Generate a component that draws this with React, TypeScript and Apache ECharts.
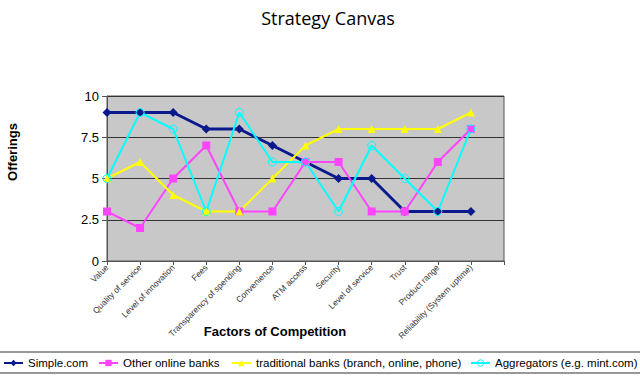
import React, { useEffect, useRef } from "react";
import * as echarts from "echarts";

const categories = [
  "Value",
  "Quality of service",
  "Level of innovation",
  "Fees",
  "Transparency of spending",
  "Convenience",
  "ATM access",
  "Security",
  "Level of service",
  "Trust",
  "Product range",
  "Reliability (System uptime)",
  "",
];
const seriesNames = [
  "Simple.com",
  "Other online banks",
  "traditional banks (branch, online, phone)",
  "Aggregators (e.g. mint.com)",
];
const simpleCom = [9, 9, 9, 8, 8, 7, 6, 5, 5, 3, 3, 3];
const otherOnline = [3, 2, 5, 7, 3, 3, 6, 6, 3, 3, 6, 8];
const traditional = [5, 6, 4, 3, 3, 5, 7, 8, 8, 8, 8, 9];
const aggregators = [5, 9, 8, 3, 9, 6, 6, 3, 7, 5, 3, 8];

const FONT = "Liberation Sans, Arial, sans-serif";
const legendLefts = [3, 98, 231, 470];

export default function App() {
  const ref = useRef<HTMLDivElement>(null);
  useEffect(() => {
    if (!ref.current) return;
    const chart = echarts.init(ref.current, null, { renderer: "svg" });
    const legends = seriesNames.map((name, i) => ({
      left: legendLefts[i],
      top: 357,
      itemWidth: 19,
      itemHeight: 8,
      padding: 0,
      textStyle: { fontFamily: FONT, fontSize: 11.5, color: "#000" },
      data: [
        i === 3
          ? { name, itemStyle: { color: "rgba(0,0,0,0)", borderColor: "#00ffff", borderWidth: 1 } }
          : { name },
      ],
    }));
    chart.setOption({
      animation: false,
      backgroundColor: "#ffffff",
      title: {
        text: "Strategy Canvas",
        left: 323,
        textAlign: "center",
        top: 4,
        textStyle: { fontFamily: "Open Sans, sans-serif", fontSize: 18, fontWeight: "normal", color: "#000" },
      },
      graphic: [
        {
          type: "rect",
          shape: { x: -2, y: 352, width: 644, height: 21 },
          style: { fill: "none", stroke: "#777", lineWidth: 1.5 },
          silent: true,
        },
        {
          type: "text",
          x: 275,
          y: 331,
          style: {
            text: "Factors of Competition",
            font: "bold 13px " + FONT,
            fill: "#000",
            textAlign: "center",
            textVerticalAlign: "middle",
          },
        },
        {
          type: "text",
          x: 12,
          y: 152,
          rotation: Math.PI / 2,
          style: {
            text: "Offerings",
            font: "bold 13px " + FONT,
            fill: "#000",
            textAlign: "center",
            textVerticalAlign: "middle",
          },
        },
      ],
      legend: legends,
      grid: {
        left: 107,
        right: 136,
        top: 96,
        bottom: 116,
        show: true,
        backgroundColor: "#c8c8c8",
        borderColor: "#555",
        borderWidth: 1,
      },
      xAxis: {
        type: "category",
        data: categories,
        boundaryGap: false,
        axisLine: { lineStyle: { color: "#555", width: 1 } },
        axisTick: { show: true, length: 4, alignWithLabel: true, interval: 0, lineStyle: { color: "#555" } },
        axisLabel: {
          interval: 0,
          rotate: 45,
          fontSize: 8.5,
          fontFamily: FONT,
          color: "#333",
          margin: 5,
        },
        splitLine: { show: false },
      },
      yAxis: {
        type: "value",
        min: 0,
        max: 10,
        interval: 2.5,
        axisLine: { show: true, lineStyle: { color: "#555", width: 1 } },
        axisTick: { show: true, length: 5, lineStyle: { color: "#555" } },
        axisLabel: { fontSize: 13, fontFamily: FONT, color: "#000", margin: 8 },
        splitLine: { show: true, lineStyle: { color: "#333", width: 1 } },
      },
      series: [
        {
          name: seriesNames[0],
          type: "line",
          data: simpleCom,
          color: "#0a1a8c",
          lineStyle: { width: 3 },
          symbol: "diamond",
          symbolSize: 9,
        },
        {
          name: seriesNames[1],
          type: "line",
          data: otherOnline,
          color: "#ff44ff",
          lineStyle: { width: 2 },
          symbol: "rect",
          symbolSize: 8,
        },
        {
          name: seriesNames[2],
          type: "line",
          data: traditional,
          color: "#ffff00",
          lineStyle: { width: 2 },
          symbol: "triangle",
          symbolSize: 8,
        },
        {
          name: seriesNames[3],
          type: "line",
          data: aggregators,
          color: "#00ffff",
          lineStyle: { width: 2, color: "#00ffff" },
          symbol: "circle",
          symbolSize: 8,
          itemStyle: { color: "rgba(0,0,0,0)", borderColor: "#00ffff", borderWidth: 1 },
        },
      ],
    });
    return () => chart.dispose();
  }, []);
  return <div ref={ref} style={{ width: 640, height: 377, position: "absolute", left: 0, top: 0 }} />;
}
